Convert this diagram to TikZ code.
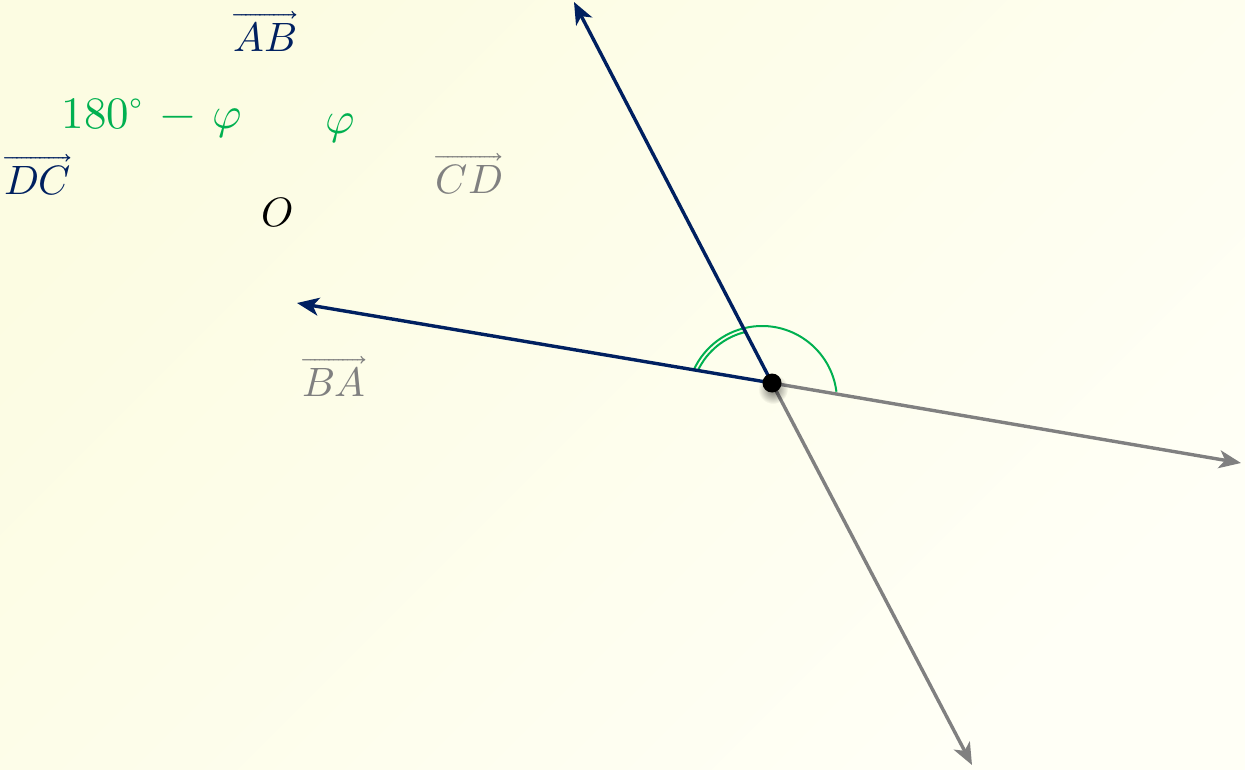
\documentclass[tikz,border=0pt]{standalone}
\usepackage{unicode-math}
\usetikzlibrary{arrows.meta,fadings}
\definecolor{navy}{HTML}{002060}
\definecolor{gry}{HTML}{808080}
\definecolor{grn}{HTML}{00B050}
\definecolor{bgA}{HTML}{FCFCE2}
\definecolor{bgB}{HTML}{FFFFF6}
\tikzfading[name=softdot,inner color=transparent!0,outer color=transparent!100]
\tikzset{
  vec/.style={line width=3.4pt,-{Stealth[length=22pt,width=18pt,inset=6pt]}},
  lbl/.style={inner sep=0pt,font=\fontsize{41}{46}\selectfont},
  glbl/.style={inner sep=0pt,font=\fontsize{45}{50}\selectfont},
  angarc/.style={grn,line width=2pt},
  dotnode/.style={circle,fill=black,minimum size=19pt,inner sep=0pt}
}
\begin{document}
\begin{tikzpicture}[x=1pt,y=-1pt]
\shade[top color=bgA,bottom color=bgB,shading angle=45] (0,0) rectangle (1245,770);
\useasboundingbox (0,0) rectangle (1245,770);
\coordinate (o) at (772,383);
\coordinate (c) at (762,401);
\coordinate (tAB) at (574,2);
\coordinate (tBA) at (297,303);
\coordinate (tCD) at (1241,463);
\coordinate (tDC) at (972,765);
% green angle arcs
\draw[angarc] ([shift={(7.1:75pt)}]c) arc[start angle=7.1,end angle=155.7,radius=75pt];
\draw[angarc] ([shift={(103.4:71pt)}]c) arc[start angle=103.4,end angle=154.6,radius=71pt];
% vectors
\draw[vec,gry] (o) -- (tCD);
\draw[vec,gry] (o) -- (tDC);
\draw[vec,navy] (o) -- (tBA);
\draw[vec,navy] (o) -- (tAB);
% soft shadow of the dot
\fill[black,opacity=0.55,path fading=softdot] ([shift={(1pt,-6pt)}]o) circle (15pt);
\node[dotnode] (odot) at (o) {};
% labels
\node[lbl,navy] (lAB) at (265,31) {$\overrightarrow{AB}$};
\node[lbl,navy] (lDC) at (38,175) {$\overrightarrow{DC}$};
\node[lbl,gry] (lCD) at (469,174) {$\overrightarrow{CD}$};
\node[lbl,gry] (lBA) at (334,376) {$\overrightarrow{BA}$};
\node[glbl,grn] (lsupp) at (152,118) {$180^\circ\,-\,\varphi$};
\node[glbl,grn] (lphi) at (340,128) {$\varphi$};
\node[lbl] (lO) at (277,212) {$O$};
\end{tikzpicture}
\end{document}
